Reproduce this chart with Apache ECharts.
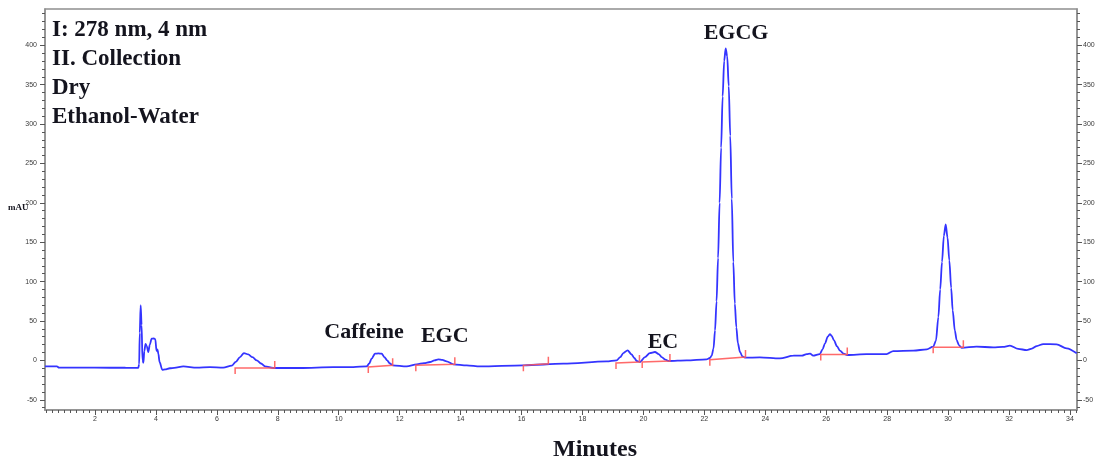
<!DOCTYPE html>
<html>
<head>
<meta charset="utf-8">
<script src="https://cdn.jsdelivr.net/npm/echarts@6/dist/echarts.min.js"></script>
<style>
html, body { margin: 0; padding: 0; background: #fff; }
#main { width: 1098px; height: 464px; }
</style>
</head>
<body>
<div id="main"></div>
<script>
// detector trace, [minutes, mAU]
const trace = [
  [0.36,-7.6],[0.75,-7.6],[0.82,-9.2],[2.0,-9.3],[3.0,-9.4],[3.42,-9.6],[3.45,-5],[3.47,35],[3.5,70],[3.53,45],
  [3.56,0],[3.59,-3],[3.62,12],[3.66,21],[3.7,18],[3.75,10.6],[3.8,20],[3.86,27.5],[3.93,28],[3.98,27],
  [4.02,12],[4.05,14],[4.08,8.5],[4.12,-2],[4.21,-12],[4.3,-11.5],[4.46,-10],[4.6,-9.5],[4.9,-7.6],[5.34,-9.3],
  [5.77,-8.5],[6.21,-9.3],[6.49,-6.8],[6.62,-2],[6.76,4.2],[6.89,9.3],[7.03,7.6],[7.17,4],[7.31,0],[7.45,-4],
  [7.58,-7.6],[7.85,-9.7],[8.73,-9.7],[9.82,-8.5],[10.48,-8.5],[10.92,-7.6],[11.0,-4],[11.08,2.1],[11.19,8.5],[11.3,8.8],
  [11.41,8.5],[11.5,4],[11.59,0],[11.68,-4],[11.77,-6.3],[12.23,-7.6],[12.56,-5],[12.8,-3.5],[13.0,-2.1],[13.14,0],
  [13.27,1.3],[13.4,0.5],[13.54,-1.3],[13.76,-5],[14.2,-6.3],[14.64,-7.6],[16.06,-6.3],[17.37,-4.2],[18.79,-1.3],[19.12,0],
  [19.24,4],[19.34,9.3],[19.48,12.7],[19.61,7.6],[19.7,3],[19.78,-0.8],[19.89,-2.1],[20.05,4.2],[20.21,9.3],[20.38,10.6],
  [20.5,8],[20.6,4.2],[20.72,1],[20.82,-0.8],[21.42,0],[22.07,1.3],[22.18,3],[22.24,6],[22.3,15],[22.35,38],
  [22.4,75],[22.45,130],[22.5,200],[22.55,270],[22.6,335],[22.65,380],[22.7,396],[22.75,386],[22.8,348],[22.85,285],
  [22.9,205],[22.95,125],[23.0,72],[23.05,42],[23.1,22],[23.17,10.6],[23.25,5],[23.33,3.4],[23.82,3.8],[24.48,2.5],
  [24.92,5.9],[25.2,6],[25.36,8],[25.47,8.5],[25.57,5.9],[25.79,8],[25.88,14],[25.96,21.6],[26.05,30],[26.12,33.4],
  [26.18,31],[26.25,25.8],[26.35,18],[26.45,12.3],[26.57,8.5],[26.69,6.8],[27.32,8],[27.98,8],[28.2,11.8],[28.86,12.3],
  [29.3,14],[29.51,17.4],[29.6,25],[29.68,55],[29.74,90],[29.8,125],[29.86,158],[29.92,172.7],[29.98,156],[30.04,127],
  [30.1,92],[30.15,63.5],[30.22,38],[30.28,25.8],[30.36,19],[30.44,16],[30.93,17.4],[31.48,16.5],[31.8,17],[32.03,18.6],
  [32.3,14.5],[32.58,13.1],[32.75,15],[32.91,18.2],[33.12,20.7],[33.56,20.3],[33.89,15.2],[34.22,8.9]
];

// integration baselines: [tStart, mAU start, tEnd, mAU end]
const baselines = [
  [6.6,-9.7,7.9,-9.7],
  [10.97,-8.5,11.77,-6.3],
  [12.53,-6.3,13.81,-5],
  [16.06,-6.3,16.88,-4.2],
  [19.1,-3.4,19.87,-2.1],
  [19.96,-2.1,20.87,-0.8],
  [22.18,0.8,23.35,4.2],
  [25.82,7.6,26.69,7.6],
  [29.51,16.5,30.5,16.5]
];

// peak names and where their labels sit [name, minutes, mAU]
const peakLabels = [
  ['Caffeine', 10.83, 36],
  ['EGC', 13.48, 31],
  ['EC', 20.64, 23],
  ['EGCG', 23.04, 415]
];

const infoLines = ['I: 278 nm, 4 nm', 'II. Collection', 'Dry', 'Ethanol-Water'];

const xTickLabels = [2,4,6,8,10,12,14,16,18,20,22,24,26,28,30,32,34];
const yTickLabels = [-50,0,50,100,150,200,250,300,350,400];

const xMin = 0.36, xMax = 34.23, yMin = -63, yMax = 446;

// minor tick positions
const xMinor = [];
for (let v = 0.4; v < xMax; v += 0.2) xMinor.push(+v.toFixed(1));
const yMinor = [];
for (let v = -60; v <= 440; v += 10) yMinor.push(v);

const serif = 'Liberation Serif';
const ink = '#14141e';
const frame = '#8f8f8f';
const tickFont = { fontSize: 7, color: '#3a3a3a', fontFamily: 'Liberation Sans' };

function xAxisCfg(minor) {
  return {
    type: 'value', min: xMin, max: xMax, position: 'bottom',
    axisLine: { show: !minor, onZero: false, lineStyle: { color: frame, width: 1.5 } },
    axisTick: { show: true, inside: false, length: minor ? 3 : 5,
      customValues: minor ? xMinor : xTickLabels, lineStyle: { color: '#555' } },
    axisLabel: { show: !minor, margin: 6, customValues: xTickLabels, ...tickFont },
    splitLine: { show: false }
  };
}

function yAxisCfg(pos, minor) {
  return {
    type: 'value', min: yMin, max: yMax, position: pos,
    axisLine: { show: !minor, onZero: false, lineStyle: { color: frame, width: 1.5 } },
    axisTick: { show: true, length: minor ? 3 : 5,
      customValues: minor ? yMinor : yTickLabels, lineStyle: { color: '#555' } },
    axisLabel: { show: !minor, margin: pos === 'left' ? 8 : 6, customValues: yTickLabels, ...tickFont },
    splitLine: { show: false }
  };
}

const chart = echarts.init(document.getElementById('main'));
chart.setOption({
  animation: false,
  backgroundColor: '#fff',
  grid: { left: 45, right: 21, top: 9, bottom: 54, show: true, borderColor: frame, borderWidth: 1.5 },
  xAxis: [xAxisCfg(false), xAxisCfg(true)],
  yAxis: [yAxisCfg('left', false), yAxisCfg('left', true), yAxisCfg('right', false), yAxisCfg('right', true)],
  series: [
    {
      type: 'line', data: trace, showSymbol: false, smooth: 0.3, smoothMonotone: 'x',
      lineStyle: { color: '#3434ff', width: 1.8 }, z: 3
    },
    {
      type: 'custom', data: baselines, encode: { x: [0, 2], y: [1, 3] }, z: 4,
      renderItem: function (params, api) {
        const a = api.coord([api.value(0), api.value(1)]);
        const b = api.coord([api.value(2), api.value(3)]);
        return {
          type: 'polyline',
          shape: { points: [[a[0], a[1] + 6], a, b, [b[0], b[1] - 7]] },
          style: { stroke: '#ff5a5a', lineWidth: 1.5, fill: null, opacity: 0.9 }
        };
      }
    },
    {
      type: 'scatter', symbolSize: 0, z: 5,
      itemStyle: { opacity: 1 },
      data: peakLabels.map(p => ({ name: p[0], value: [p[1], p[2]] })),
      label: {
        show: true, position: 'inside', formatter: '{b}', opacity: 1,
        fontFamily: serif, fontWeight: 'bold', fontSize: 22, color: ink
      }
    }
  ],
  graphic: [
    ...infoLines.map((t, i) => ({
      type: 'text', left: 52, top: 19 + i * 29,
      style: { text: t, font: 'bold 23px "Liberation Serif"', fill: ink }
    })),
    { type: 'text', left: 553, top: 438,
      style: { text: 'Minutes', font: 'bold 24px "Liberation Serif"', fill: ink } },
    { type: 'text', left: 8, top: 203,
      style: { text: 'mAU', font: 'bold 9px "Liberation Serif"', fill: ink } }
  ]
});
</script>
</body>
</html>
